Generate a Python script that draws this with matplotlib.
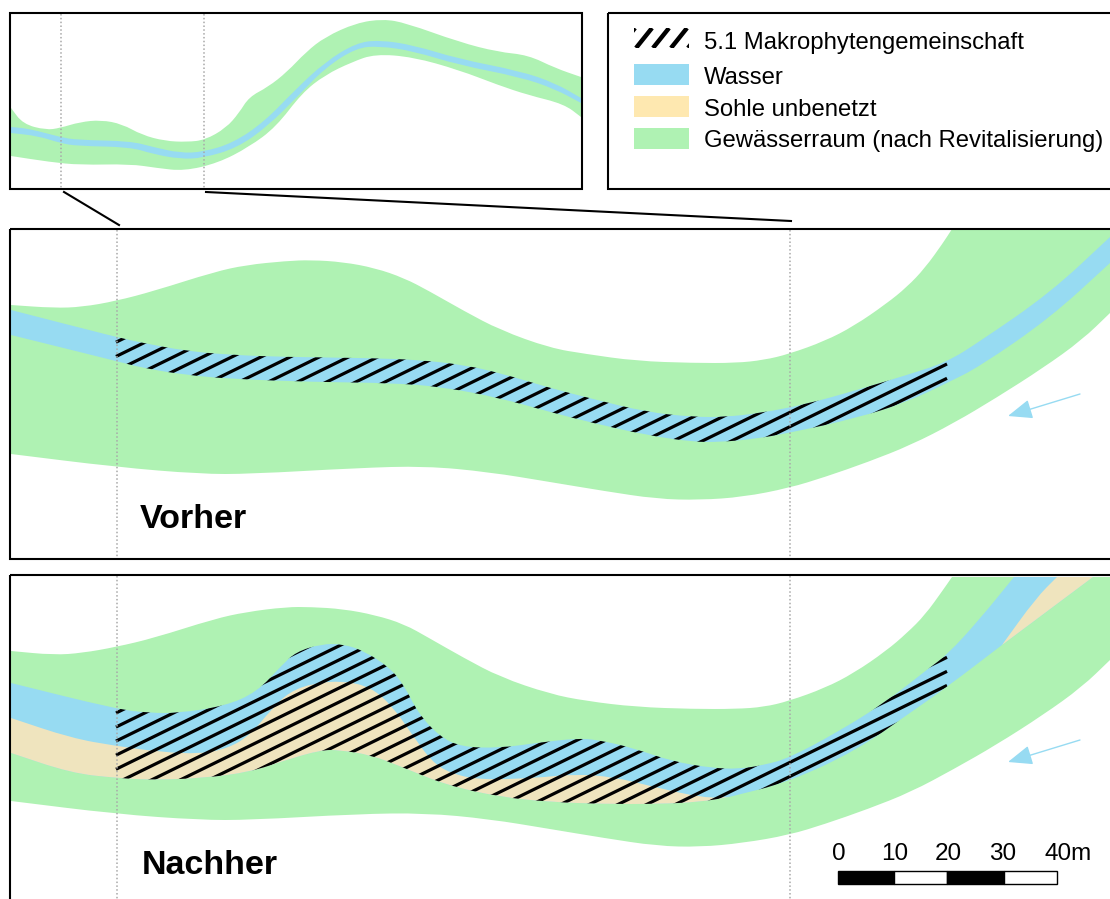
# Vorher / Nachher map of the river section, all shapes in picture pixels
import matplotlib
matplotlib.use("Agg")
import matplotlib.pyplot as plt
from matplotlib.patches import PathPatch, Rectangle
from matplotlib.path import Path
import numpy as np

plt.rcParams['font.family'] = ['Liberation Sans', 'DejaVu Sans']

WATER = '#97DBF2'
SAND = '#EFE4BE'
SAND_LEGEND = '#FEE8B0'
GREEN = '#AFF2B3'
GREY = '#A8A8A8'

# overview map
over_green = [(11, 108), (23, 124), (46, 130), (60, 128), (80, 122), (101, 120), (122, 124), (142, 135), (165, 141),
              (187, 142), (205, 140), (226, 128), (239, 113), (249, 97), (268, 87), (287, 72), (306, 52), (325, 37),
              (356, 23), (383, 19), (406, 23), (459, 42), (498, 52), (528, 55), (555, 68), (581, 77),
              (581, 117), (564, 104), (528, 95), (498, 85), (459, 70), (413, 57), (375, 54), (352, 62), (325, 75),
              (302, 93), (276, 127), (249, 147), (218, 163), (184, 171), (157, 168), (130, 164), (80, 165), (50, 162),
              (11, 156)]
over_water = [(11, 127), (23, 128), (38, 131), (60, 137), (77, 140), (130, 141), (153, 147), (180, 153), (203, 152),
              (233, 143), (264, 122), (295, 90), (325, 62), (356, 43), (379, 40), (413, 45), (459, 59), (520, 71),
              (555, 83), (581, 98),
              (581, 103), (555, 89), (520, 77), (459, 65), (413, 51), (379, 46), (356, 48), (325, 68), (299, 95),
              (268, 126), (237, 148), (203, 158), (180, 159), (153, 154), (130, 147), (77, 146), (60, 143), (38, 136),
              (11, 133)]

# Vorher panel
before_green = [(11, 305), (54, 308), (82, 307), (116, 301), (154, 291), (214, 272), (246, 265), (286, 261), (311, 260),
                (343, 262), (375, 268), (404, 278), (429, 291), (464, 311), (500, 330), (550, 348), (586, 354),
                (636, 361), (693, 363), (736, 363), (764, 360), (789, 354), (825, 341), (854, 326), (886, 304),
                (907, 287), (925, 268), (943, 243), (952, 229), (1110, 229),
                (1110, 313), (1082, 340), (1043, 368), (996, 398), (954, 423), (911, 445), (868, 462), (825, 477),
                (789, 488), (743, 497), (700, 500), (657, 499), (604, 491), (550, 482), (489, 472), (425, 466),
                (357, 468), (250, 474), (200, 474), (116, 467), (11, 454)]
before_water = [(11, 310), (116, 337), (143, 343), (186, 351), (232, 355), (286, 357), (368, 358), (421, 360), (464, 365),
                (500, 373), (550, 388), (593, 399), (646, 412), (693, 417), (725, 417), (761, 413), (807, 404),
                (857, 390), (907, 375), (947, 362), (979, 342), (1050, 293), (1110, 237),
                (1110, 263), (1050, 318), (979, 367), (947, 383), (907, 402), (857, 418), (789, 433), (754, 439),
                (721, 442), (693, 442), (646, 435), (593, 423), (550, 412), (500, 398), (443, 387), (393, 383),
                (314, 382), (232, 379), (186, 375), (143, 368), (116, 361), (11, 335)]

# Nachher panel
after_green = [(11, 651), (54, 655), (82, 653), (116, 647), (154, 638), (214, 619), (246, 612), (286, 607), (311, 607),
               (343, 609), (375, 615), (404, 624), (429, 638), (464, 658), (500, 677), (550, 694), (586, 701),
               (636, 707), (693, 709), (736, 709), (764, 707), (789, 701), (825, 688), (854, 673), (886, 651),
               (907, 633), (925, 615), (943, 590), (952, 577), (1110, 577),
               (1110, 660), (1082, 687), (1043, 715), (996, 745), (954, 769), (911, 792), (868, 809), (825, 824),
               (789, 835), (743, 843), (700, 847), (657, 846), (604, 838), (550, 829), (489, 819), (425, 813),
               (357, 814), (250, 820), (200, 820), (116, 814), (11, 801)]
after_river = [(11, 683), (116, 709), (150, 713), (179, 713), (225, 706), (257, 692), (282, 665), (296, 652), (321, 644),
               (343, 644), (364, 651), (389, 667), (404, 685), (418, 713), (439, 736), (461, 747), (500, 748),
               (536, 743), (579, 738), (604, 741), (636, 749), (671, 761), (711, 768), (739, 769), (764, 765),
               (789, 758), (836, 733), (886, 702), (929, 668), (947, 655), (979, 620), (1014, 577), (1093, 577),
               (1002, 645), (947, 687), (907, 715), (857, 750), (789, 782), (729, 797), (700, 802), (657, 804),
               (604, 804), (550, 802), (500, 797), (446, 785), (402, 767), (371, 755), (339, 750), (321, 750),
               (286, 760), (250, 772), (204, 778), (154, 780), (116, 778), (71, 773), (11, 753)]
after_sand = [(11, 718), (71, 738), (116, 746), (161, 752), (200, 754), (229, 748), (250, 735), (271, 710), (289, 692),
              (314, 683), (343, 681), (371, 687), (393, 707), (411, 733), (432, 762), (450, 773), (479, 780),
              (536, 778), (575, 774), (614, 777), (654, 787), (704, 798), (729, 797), (700, 802), (657, 804),
              (604, 804), (550, 802), (500, 797), (446, 785), (402, 767), (371, 755), (339, 750), (321, 750),
              (286, 760), (250, 772), (204, 778), (154, 780), (116, 778), (71, 773), (11, 753)]
after_sand_top = [(1057, 577), (1036, 598), (1002, 645), (1093, 577)]

legend_labels = ['5.1 Makrophytengemeinschaft', 'Wasser', 'Sohle unbenetzt', 'Gewässerraum (nach Revitalisierung)']
legend_colors = [None, WATER, SAND_LEGEND, GREEN]
legend_y = [40, 75, 107, 139]

scale_labels = ['0', '10', '20', '30', '40m']
scale_label_x = [839, 895, 948, 1003, 1068]
scale_edges = [838, 894, 947, 1004, 1057]


def is_sharp(pt):
    x, y = pt
    return x <= 11 or x >= 1110 or x == 581 or y in (229, 577) or pt in ((729, 797), (1002, 645))


def outline(points):
    # closed outline, quadratic curves through the midpoints, real corners kept
    pts = []
    for p in points:
        pts.append(p)
        if is_sharp(p):
            pts.append(p)
    pts = np.array(pts, dtype=float)
    mids = (pts + np.roll(pts, -1, axis=0)) / 2
    verts = [mids[-1]]
    codes = [Path.MOVETO]
    for p, m in zip(pts, mids):
        verts += [p, m]
        codes += [Path.CURVE3, Path.CURVE3]
    return Path(verts, codes)


def add_hatch(ax, river, anchor, step):
    # parallel lines between the two dotted limits, cut along the river outline
    clip = PathPatch(outline(river), fc='none', ec='none')
    ax.add_patch(clip)
    xs = np.array([116, 947])
    for k in range(-40, 12):
        ys = anchor + k * step - 0.49 * (xs - 947)
        line, = ax.plot(xs, ys, color='k', lw=2.3, solid_capstyle='butt')
        line.set_clip_path(clip)


def add_arrow(ax, tail, tip):
    ax.annotate('', xy=tip, xytext=tail,
                arrowprops=dict(arrowstyle='-|>,head_length=0.75,head_width=0.3', color=WATER, lw=1,
                                mutation_scale=20, shrinkA=0, shrinkB=0))


fig = plt.figure(figsize=(11.10, 8.99), dpi=100)
ax = fig.add_axes([0, 0, 1, 1])
ax.set_xlim(0, 1110)
ax.set_ylim(899, 0)
ax.axis('off')

for shape, color in [(over_green, GREEN), (over_water, WATER), (before_green, GREEN), (before_water, WATER),
                     (after_green, GREEN), (after_river, WATER), (after_sand, SAND), (after_sand_top, SAND)]:
    ax.add_patch(PathPatch(outline(shape), fc=color, ec='none'))

add_hatch(ax, before_water, 364, 14.3)
add_hatch(ax, after_river, 657.3, 14.06)

# dotted limits
for x, y0, y1 in [(60.5, 14, 188), (203.5, 14, 188), (116.5, 230, 558), (789.5, 230, 558), (116.5, 576, 899), (789.5, 576, 899)]:
    ax.plot([x, x], [y0, y1], color=GREY, lw=1.1, ls=(0, (1, 1.5)))

# frames and connectors
for x0, y0, x1, y1 in [(10, 13, 581.5, 189), (608, 13, 1120, 189), (10, 229, 1120, 559), (10, 575, 1120, 910)]:
    ax.add_patch(Rectangle((x0, y0), x1 - x0, y1 - y0, fc='none', ec='k', lw=1.5))
ax.plot([64, 119], [192, 225], color='k', lw=1.5)
ax.plot([206, 791], [192, 221], color='k', lw=1.5)

# legend
swatch = Rectangle((634, 28), 55, 20, fc='none', ec='none')
ax.add_patch(swatch)
for x in [635, 652, 669, 687, 704]:
    line, = ax.plot([x - 16, x], [48, 28], color='k', lw=3.2, solid_capstyle='butt')
    line.set_clip_path(swatch)
for label, color, y in zip(legend_labels, legend_colors, legend_y):
    if color is not None:
        ax.add_patch(Rectangle((634, y - 11), 55, 21, fc=color, ec='none'))
    ax.text(704, y, label, fontsize=17.2, va='center_baseline', ha='left', color='k')

ax.text(140, 528, 'Vorher', fontsize=24.5, fontweight='bold', ha='left', va='baseline')
ax.text(142, 874, 'Nachher', fontsize=24.5, fontweight='bold', ha='left', va='baseline')

add_arrow(ax, (1080, 394), (1008, 416))
add_arrow(ax, (1080, 740), (1008, 762))

# scale bar
for i in range(len(scale_edges) - 1):
    ax.add_patch(Rectangle((scale_edges[i], 871), scale_edges[i + 1] - scale_edges[i], 13,
                           fc='k' if i % 2 == 0 else 'w', ec='k', lw=1))
for label, x in zip(scale_labels, scale_label_x):
    ax.text(x, 860, label, fontsize=17.5, ha='center', va='baseline')

fig.savefig('out.png', dpi=100)
